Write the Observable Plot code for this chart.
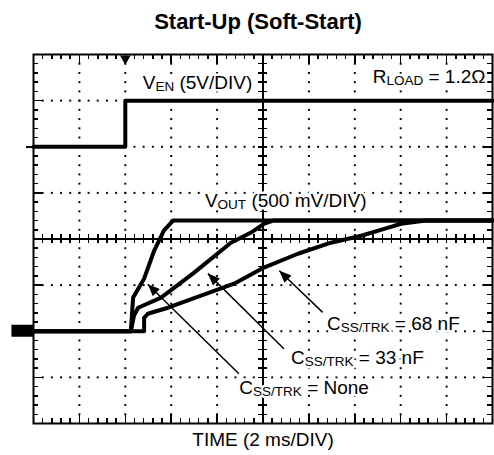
<!DOCTYPE html>
<html><head><meta charset="utf-8">
<script src="https://cdn.jsdelivr.net/npm/d3@7"></script>
<script src="https://cdn.jsdelivr.net/npm/@observablehq/plot@0.6"></script>
<style>html,body{margin:0;padding:0;background:#fff;}</style>
</head><body><div id="chart"></div>
<script>
// ---- Data (time in ms from EN trigger, 2 ms/DIV; voltages in V) ----
const timeDomain = [-4, 16];
const divDomain = [-4, 4];
// EN trace: 5 V/DIV, ground at +2 div
const enTime = [-4, 0, 0, 16];
const enVolt = [0, 0, 5, 5];
// VOUT traces: 500 mV/DIV, ground at -2 div
const noneTime = [-4, 0.24, 0.34, 0.82, 1.26, 1.68, 2.08, 16];
const noneVolt = [0, 0, 0.365, 0.57, 0.875, 1.09, 1.2, 1.2];
const c33Time = [-4, 0.24, 0.38, 0.56, 1.56, 3.0, 4.6, 5.48, 6.04, 6.44, 16];
const c33Volt = [0, 0, 0.17, 0.255, 0.365, 0.635, 0.96, 1.07, 1.165, 1.2, 1.2];
const c68Time = [-4, 0.82, 0.82, 0.98, 1.86, 3.30, 4.74, 6.04, 7.52, 8.96, 10.28, 11.28, 12.02, 13.1, 16];
const c68Volt = [0, 0, 0.145, 0.19, 0.255, 0.385, 0.515, 0.69, 0.84, 0.96, 1.035, 1.11, 1.165, 1.2, 1.2];
// Labels ({...} = subscript)
const labelText = ["V{EN} (5V/DIV)", "R{LOAD} = 1.2Ω", "V{OUT} (500 mV/DIV)", "C{SS/TRK} = 68 nF", "C{SS/TRK} = 33 nF", "C{SS/TRK} = None"];
const labelTime = [0.76, 10.78, 3.47, 8.79, 7.22, 4.97];
const labelDiv = [3.26, 3.39, 0.69, -1.97, -2.71, -3.35];
// Pointer arrows (tail -> tip)
const arrowTailTime = [8.60, 6.91, 4.95];
const arrowTailDiv = [-1.59, -2.38, -2.92];
const arrowTipTime = [6.71, 3.60, 0.98];
const arrowTipDiv = [-0.69, -0.75, -0.98];
const titleText = "Start-Up (Soft-Start)";
const xLabel = "TIME (2 ms/DIV)";

// ---- Build tables ----
const enDiv = v => v / 5 + 2;
const outDiv = v => v / 0.5 - 2;
const en = enTime.map((t, i) => ({t, d: enDiv(enVolt[i])}));
const out = [["None", noneTime, noneVolt], ["33 nF", c33Time, c33Volt], ["68 nF", c68Time, c68Volt]]
  .flatMap(([name, T, V]) => T.map((t, i) => ({name, t, d: outDiv(V[i])})));
const labels = labelText.map((s, i) => ({s, t: labelTime[i], d: labelDiv[i]}));
const arrows = arrowTailTime.map((t, i) => ({x1: t, y1: arrowTailDiv[i], x2: arrowTipTime[i], y2: arrowTipDiv[i]}));

// graticule
const minorX = d3.range(0, 51).map(i => -4 + i * 0.4);
const minorY = d3.range(0, 41).map(i => -4 + i * 0.2);
const majorX = d3.range(0, 11).map(i => -4 + i * 2);
const majorY = d3.range(0, 9).map(i => -4 + i);
const dots = [];
majorX.slice(1, -1).filter(x => x !== 6).forEach(x => minorY.slice(1, -1).forEach(y => dots.push({x, y})));
majorY.slice(1, -1).filter(y => y !== 0).forEach(y => minorX.slice(1, -1).forEach(x => dots.push({x, y})));

const tx = 0.22, ty = 0.11, TX = 0.4, TY = 0.2;
const tick = {stroke: "black", strokeWidth: 1.5};
const svg = Plot.plot({
  width: 494, height: 455,
  marginLeft: 33, marginRight: 2, marginTop: 54, marginBottom: 32,
  x: {domain: timeDomain, axis: null},
  y: {domain: divDomain, axis: null},
  style: {fontFamily: "Liberation Sans, Arial, sans-serif", fontSize: "19px", background: "white", color: "black"},
  marks: [
    Plot.dot(dots, {x: "x", y: "y", r: 1.1, symbol: "square", fill: "black", stroke: null}),
    Plot.ruleX([6], tick),
    Plot.ruleY([0], tick),
    Plot.ruleX(minorX, {x: d => d, y1: -0.1, y2: 0.1, ...tick}),
    Plot.ruleY(minorY, {y: d => d, x1: 6 - 0.2, x2: 6 + 0.2, ...tick}),
    // frame ticks
    Plot.ruleX(minorX, {x: d => d, y1: 4, y2: 4 - ty, ...tick}),
    Plot.ruleX(minorX, {x: d => d, y1: -4, y2: -4 + ty, ...tick}),
    Plot.ruleY(minorY, {y: d => d, x1: -4, x2: -4 + tx, ...tick}),
    Plot.ruleY(minorY, {y: d => d, x1: 16, x2: 16 - tx, ...tick}),
    Plot.ruleX(majorX, {x: d => d, y1: 4, y2: 4 - TY, ...tick}),
    Plot.ruleX(majorX, {x: d => d, y1: -4, y2: -4 + TY, ...tick}),
    Plot.ruleY(majorY, {y: d => d, x1: -4, x2: -4 + TX, ...tick}),
    Plot.ruleY(majorY, {y: d => d, x1: 16, x2: 16 - TX, ...tick}),
    Plot.frame({stroke: "black", strokeWidth: 2}),
    // markers
    Plot.dot([0], {x: d => d, y: 4, symbol: "triangle", rotate: 180, r: 4, dy: 4, fill: "black", stroke: null}),
    Plot.rect([outDiv(0)], {x1: -4.94, x2: -4, y1: d => d - 0.13, y2: d => d + 0.13, fill: "black"}),
    Plot.ruleY([enDiv(0)], {y: d => d, x1: -4.3, x2: -4, stroke: "black", strokeWidth: 2}),
    // labels (white halo knocks out the graticule behind them)
    Plot.text(labels, {x: "t", y: "d", text: "s", textAnchor: "start", lineAnchor: "bottom", fontSize: 19, fill: "black", stroke: "white", strokeWidth: 5, paintOrder: "stroke"}),
    // traces
    Plot.line(en, {x: "t", y: "d", stroke: "black", strokeWidth: 4, strokeLinejoin: "round"}),
    Plot.line(out, {x: "t", y: "d", z: "name", stroke: "black", strokeWidth: 4, strokeLinejoin: "round"}),
    // annotations
    Plot.link(arrows, {x1: "x1", y1: "y1", x2: "x2", y2: "y2", stroke: "black", strokeWidth: 1.5}),
    Plot.text([titleText], {frameAnchor: "top", dy: -26, dx: -5, lineAnchor: "bottom", fontSize: 22, fontWeight: "bold", fill: "black"}),
    Plot.text([xLabel], {frameAnchor: "bottom", dy: 22, lineAnchor: "bottom", fontSize: 19, fill: "black"})
  ]
});

// subscripts
const NS = "http://www.w3.org/2000/svg";
svg.querySelectorAll("text").forEach(t => {
  const s = t.textContent;
  if (!s.includes("{")) return;
  t.textContent = "";
  let shifted = false;
  s.split(/(\{[^}]*\})/).forEach(p => {
    if (!p) return;
    const ts = document.createElementNS(NS, "tspan");
    if (p.startsWith("{")) {
      ts.textContent = p.slice(1, -1);
      ts.setAttribute("font-size", "13.5");
      ts.setAttribute("dy", "2");
      shifted = true;
    } else {
      ts.textContent = p;
      if (shifted) { ts.setAttribute("dy", "-2"); shifted = false; }
    }
    t.appendChild(ts);
  });
  t.setAttribute("paint-order", "stroke");
  t.setAttribute("stroke-linejoin", "round");
});
// filled arrowheads
const defs = document.createElementNS(NS, "defs");
defs.innerHTML = '<marker id="ahead" viewBox="0 0 12 10" refX="12" refY="5" markerWidth="13" markerHeight="10" markerUnits="userSpaceOnUse" orient="auto"><path d="M0,0L12,5L0,10z" fill="black"/></marker>';
svg.appendChild(defs);
svg.querySelectorAll('g[aria-label="link"] path').forEach(p => p.setAttribute("marker-end", "url(#ahead)"));
svg.querySelectorAll('g[aria-label^="rule"] line').forEach(l => l.setAttribute("shape-rendering", "crispEdges"));
document.getElementById("chart").appendChild(svg);
</script>
</body></html>
